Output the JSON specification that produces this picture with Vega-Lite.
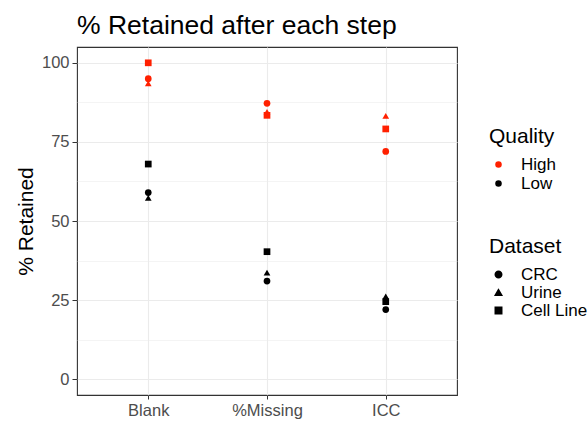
{
  "$schema": "https://vega.github.io/schema/vega-lite/v6.json",
  "width": 380,
  "height": 348,
  "autosize": {"type": "none"},
  "padding": {"left": 77, "top": 47, "right": 131, "bottom": 26},
  "background": "white",
  "title": {"text": "% Retained after each step", "anchor": "start", "frame": "group", "fontSize": 26.5, "font": "Liberation Sans", "fontWeight": "normal", "color": "black", "offset": 8},
  "data": {"values": [
    {"Step": "Blank", "Quality": "High", "Dataset": "CRC", "Retained": 95},
    {"Step": "Blank", "Quality": "High", "Dataset": "Urine", "Retained": 93.5},
    {"Step": "Blank", "Quality": "High", "Dataset": "Cell Line", "Retained": 100},
    {"Step": "Blank", "Quality": "Low", "Dataset": "CRC", "Retained": 59},
    {"Step": "Blank", "Quality": "Low", "Dataset": "Urine", "Retained": 57.3},
    {"Step": "Blank", "Quality": "Low", "Dataset": "Cell Line", "Retained": 68},
    {"Step": "%Missing", "Quality": "High", "Dataset": "CRC", "Retained": 87.2},
    {"Step": "%Missing", "Quality": "High", "Dataset": "Urine", "Retained": 84.5},
    {"Step": "%Missing", "Quality": "High", "Dataset": "Cell Line", "Retained": 83.4},
    {"Step": "%Missing", "Quality": "Low", "Dataset": "CRC", "Retained": 31},
    {"Step": "%Missing", "Quality": "Low", "Dataset": "Urine", "Retained": 33.7},
    {"Step": "%Missing", "Quality": "Low", "Dataset": "Cell Line", "Retained": 40.3},
    {"Step": "ICC", "Quality": "High", "Dataset": "CRC", "Retained": 72},
    {"Step": "ICC", "Quality": "High", "Dataset": "Urine", "Retained": 83.2},
    {"Step": "ICC", "Quality": "High", "Dataset": "Cell Line", "Retained": 79.1},
    {"Step": "ICC", "Quality": "Low", "Dataset": "CRC", "Retained": 22},
    {"Step": "ICC", "Quality": "Low", "Dataset": "Urine", "Retained": 26.2},
    {"Step": "ICC", "Quality": "Low", "Dataset": "Cell Line", "Retained": 24.5}
  ]},
  "mark": {"type": "point", "filled": true, "opacity": 1, "size": 45},
  "encoding": {
    "x": {
      "field": "Step", "type": "nominal", "sort": ["Blank", "%Missing", "ICC"],
      "scale": {"type": "point", "padding": 0.6},
      "axis": {"title": null, "labelAngle": 0, "labelFontSize": 16.5, "labelColor": "#4D4D4D", "labelPadding": 3, "tickSize": 4, "tickColor": "#333333", "domain": false, "grid": true, "gridColor": "#EBEBEB", "gridWidth": 1.1}
    },
    "y": {
      "field": "Retained", "type": "quantitative",
      "scale": {"domain": [-5, 105], "nice": false, "zero": false},
      "axis": {
        "title": "% Retained", "titleFontSize": 21, "titleFontWeight": "normal", "titleColor": "black", "titleX": -41, "titleY": 174,
        "values": [0, 12.5, 25, 37.5, 50, 62.5, 75, 87.5, 100],
        "labelExpr": "datum.value % 25 === 0 ? datum.label : ''",
        "labelFontSize": 16.5, "labelColor": "#4D4D4D", "labelPadding": 3, "tickSize": 5,
        "tickColor": {"condition": {"test": "datum.value % 25 !== 0", "value": "transparent"}, "value": "#333333"},
        "domain": false, "grid": true, "gridColor": "#EBEBEB",
        "gridWidth": {"condition": {"test": "datum.value % 25 === 0", "value": 1.1}, "value": 0.55}
      }
    },
    "color": {
      "field": "Quality", "type": "nominal",
      "scale": {"domain": ["High", "Low"], "range": ["#FF2000", "#000000"]},
      "legend": {"orient": "none", "legendX": 412, "legendY": 79, "title": "Quality", "titleFontSize": 21, "titleFontWeight": "normal", "titleColor": "black", "titlePadding": 9, "labelFontSize": 17, "labelColor": "black", "symbolType": "circle", "symbolSize": 42, "symbolOffset": 1, "labelOffset": 14, "rowPadding": 1}
    },
    "shape": {
      "field": "Dataset", "type": "nominal",
      "scale": {"domain": ["CRC", "Urine", "Cell Line"], "range": ["circle", "triangle-up", "square"]},
      "legend": {"orient": "none", "legendX": 412, "legendY": 189, "title": "Dataset", "titleFontSize": 21, "titleFontWeight": "normal", "titleColor": "black", "titlePadding": 9, "labelFontSize": 17, "labelColor": "black", "symbolFillColor": "black", "symbolStrokeColor": "black", "symbolSize": 42, "symbolOffset": 1, "labelOffset": 14, "rowPadding": 0}
    }
  },
  "config": {
    "font": "Liberation Sans",
    "view": {"stroke": "#333333", "strokeWidth": 1.1}
  }
}
